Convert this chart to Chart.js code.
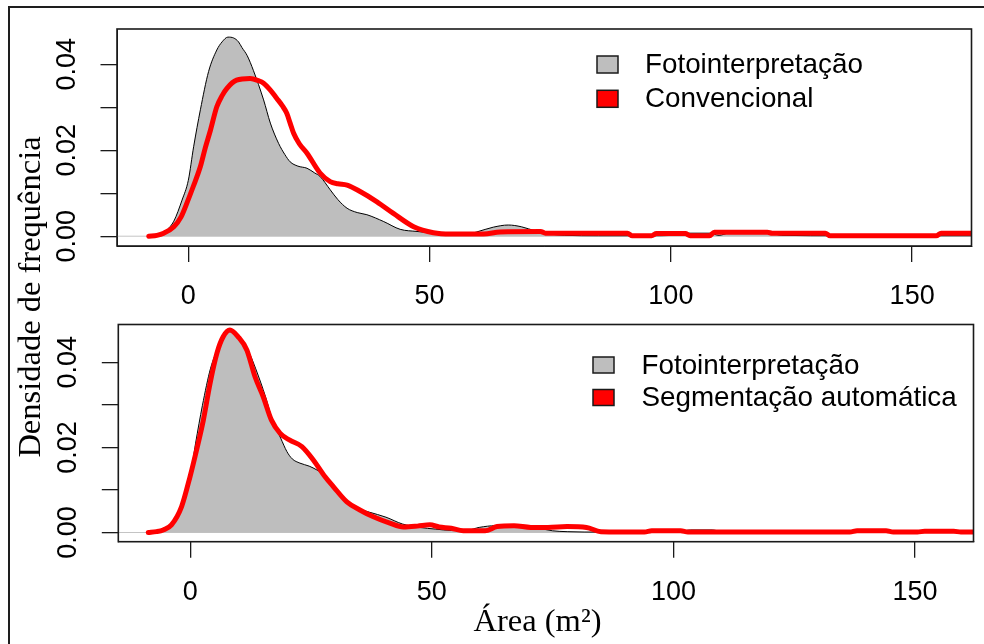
<!DOCTYPE html>
<html>
<head>
<meta charset="utf-8">
<script src="https://cdn.jsdelivr.net/npm/chart.js@4.4.1/dist/chart.umd.min.js"></script>
<style>
html,body{margin:0;padding:0;background:#fff;}
#wrap{position:relative;width:984px;height:644px;overflow:hidden;background:#fff;}
#frame{position:absolute;left:8px;top:6px;width:1000px;height:700px;border-top:2px solid #1e1e1e;border-left:2px solid #1e1e1e;}
canvas{position:absolute;left:0;top:0;}
</style>
</head>
<body>
<div id="wrap">
  <div id="frame"></div>
  <canvas id="topChart" width="984" height="644"></canvas>
  <canvas id="botChart" width="984" height="644"></canvas>
</div>
<script>
// ---------------- data ----------------
const fotoX    = [-8.5,-6,-4.4,-3,-1.3,0,1.1,2.5,4.2,5.9,7,8.2,9.4,10.4,11.1,12.2,13.5,15.6,17,18.7,20,21.1,22.7,24.6,26.2,27.3,29.4,31,32.9,35,37,40.5,43.9,47.4,50.8,54,57.6,59.8,63.2,66.3,69,72,75,78,85,95,101,103.6,108,110,112,120.5,123,135,150,165];
const fotoTopY = [0,0.0003,0.0015,0.0035,0.0084,0.0130,0.0208,0.0294,0.0383,0.0433,0.0452,0.0463,0.0461,0.0452,0.0439,0.0420,0.0385,0.0317,0.0263,0.0216,0.0190,0.0173,0.0163,0.0158,0.0147,0.0139,0.0108,0.0085,0.0065,0.0055,0.0050,0.0034,0.0016,0.0011,0.0007,0.0004,0.0004,0.0010,0.0021,0.0026,0.0022,0.0012,0.0005,0.0002,0.0001,0.0001,0.0002,0.0007,0.0007,0.0002,0.0007,0.0007,0.0002,0.0001,0.0001,0.0001];
const fotoBotY = [0,0.0003,0.0015,0.0035,0.0084,0.0132,0.0210,0.0298,0.0386,0.0437,0.0462,0.0472,0.0467,0.0455,0.0442,0.0422,0.0386,0.0318,0.0264,0.0222,0.0190,0.0173,0.0163,0.0156,0.0147,0.0139,0.0108,0.0085,0.0066,0.0055,0.0048,0.0036,0.0020,0.0012,0.0008,0.0005,0.0006,0.0012,0.0016,0.0016,0.0012,0.0010,0.0004,0.0002,0.0001,0.0001,0.0002,0.0006,0.0006,0.0002,0.0001,0.0001,0.0001,0.0001,0.0001,0.0001];

const convX = [-8.2,-6.5,-5.1,-3,-1.5,-0.3,1,2.5,3.5,4.6,5.9,7,8,10,12.8,14.5,15.6,17,18.3,19.5,20.4,21.1,21.8,23,24.6,27.3,29.4,31,32.9,35.6,39.1,42.5,46.7,50.8,54.3,61.2,64.6,73,74,91,92,96,97,103,104,108,109,120,121,132,133,155,156,165];
const convY = [0,0.0002,0.0007,0.0022,0.0045,0.0077,0.0115,0.0162,0.0205,0.0247,0.0301,0.0327,0.0344,0.0363,0.0367,0.0362,0.0356,0.0340,0.0321,0.0303,0.0286,0.0263,0.0240,0.0215,0.0193,0.0147,0.0127,0.0122,0.0119,0.0104,0.0080,0.0053,0.0022,0.0008,0.0005,0.0005,0.0010,0.0011,0.0007,0.0007,0.0001,0.0001,0.0006,0.0006,0.0001,0.0001,0.0009,0.0009,0.0007,0.0007,0.0001,0.0001,0.0007,0.0007];

const segX = [-8.7,-7,-5.6,-3.9,-1.8,-0.06,1.3,2.7,4.1,5.5,6.8,8.2,9.9,11.7,13.4,15.1,16.8,18.6,20.6,23.1,25.5,27.9,29.6,32.4,35.1,37.9,41.3,44.1,47,49.6,51.5,54,56.5,61,63.5,67,70.5,74,78,82,85,94,95.5,101.5,103,136.5,138,144,145.5,150.5,152,158,159.5,165];
const segY = [0,0.0002,0.0006,0.0018,0.0061,0.0131,0.0194,0.0264,0.0351,0.0421,0.0460,0.0476,0.0460,0.0429,0.0366,0.0319,0.0264,0.0233,0.0217,0.0202,0.0170,0.0131,0.0108,0.0072,0.0053,0.0037,0.0022,0.0013,0.0015,0.0018,0.0013,0.0010,0.0004,0.0004,0.0014,0.0016,0.0012,0.0012,0.0014,0.0012,0.0002,0.0001,0.0004,0.0004,0.0001,0.0001,0.0004,0.0004,0.0001,0.0001,0.0003,0.0003,0.0001,0.0001];

const zeroX = [-20, 170];
const zeroY = [0, 0];

const xTickValues = [0, 50, 100, 150];
const xTickLabels = ['0', '50', '100', '150'];
const yTickValues = [0, 0.02, 0.04];
const yTickLabels = ['0.00', '0.02', '0.04'];

const seriesTop = ['Fotointerpretação', 'Convencional'];
const seriesBot = ['Fotointerpretação', 'Segmentação automática'];
const xTitle = 'Área (m²)';
const yTitle = 'Densidade de frequência';

// ---------------- helpers ----------------
const pts = (xs, ys) => xs.map((x, i) => ({x: x, y: ys[i]}));
function labelFrom(values, labels, v) {
  for (let i = 0; i < values.length; i++) {
    if (Math.abs(values[i] - v) < 1e-9) return labels[i];
  }
  return '';
}
const GRAY = '#BEBEBE', RED = '#FF0000';
const SANS = 'Liberation Sans, Arial, sans-serif';
const SERIF = 'Liberation Serif, Times New Roman, serif';

const boxPlugin = {
  id: 'rBox',
  afterDatasetsDraw(chart) {
    const a = chart.chartArea, ctx = chart.ctx;
    ctx.save();
    ctx.strokeStyle = '#1a1a1a';
    ctx.lineWidth = 1.6;
    ctx.strokeRect(a.left, a.top, a.right - a.left, a.bottom - a.top);
    ctx.restore();
  }
};

const legendPlugin = {
  id: 'rLegend',
  afterDraw(chart, args, opts) {
    const ctx = chart.ctx;
    ctx.save();
    ctx.font = opts.fontSize + 'px ' + SANS;
    ctx.textBaseline = 'middle';
    ctx.textAlign = 'left';
    opts.labels.forEach((lab, i) => {
      const cy = opts.rows[i];
      ctx.fillStyle = opts.fills[i];
      ctx.fillRect(opts.boxX, cy - opts.boxH / 2, opts.boxW, opts.boxH);
      ctx.strokeStyle = '#1a1a1a';
      ctx.lineWidth = 1.5;
      ctx.strokeRect(opts.boxX, cy - opts.boxH / 2, opts.boxW, opts.boxH);
      ctx.fillStyle = '#000';
      ctx.fillText(lab, opts.textX, cy + 1);
    });
    ctx.restore();
  }
};

const titlePlugin = {
  id: 'rTitles',
  afterDraw(chart, args, opts) {
    if (!opts.show) return;
    const ctx = chart.ctx;
    ctx.save();
    ctx.fillStyle = '#000';
    ctx.font = opts.fontSize + 'px ' + SERIF;
    ctx.textAlign = 'center';
    ctx.textBaseline = 'alphabetic';
    ctx.fillText(xTitle, opts.xTitleX, opts.xTitleY);
    ctx.translate(opts.yTitleX, opts.yTitleY);
    ctx.rotate(-Math.PI / 2);
    ctx.fillText(yTitle, 0, 0);
    ctx.restore();
  }
};

function makeChart(id, cfg) {
  return new Chart(document.getElementById(id), {
    type: 'line',
    data: {
      datasets: [
        {label: cfg.names[1], data: cfg.red, borderColor: RED, borderWidth: 5, fill: false,
         pointRadius: 0, cubicInterpolationMode: 'monotone', order: 0, borderJoinStyle: 'round', borderCapStyle: 'round'},
        {label: cfg.names[0], data: cfg.gray, borderColor: '#000', borderWidth: 1, backgroundColor: GRAY,
         fill: 'origin', pointRadius: 0, cubicInterpolationMode: 'monotone', order: 1},
        {label: '', data: pts(zeroX, zeroY), borderColor: '#c4c4c4', borderWidth: 1, fill: false,
         pointRadius: 0, order: 2}
      ]
    },
    options: {
      responsive: false,
      animation: false,
      events: [],
      layout: {padding: cfg.padding},
      plugins: {
        legend: {display: false},
        tooltip: {enabled: false},
        rLegend: cfg.legend,
        rTitles: cfg.titles
      },
      scales: {
        x: {
          type: 'linear', min: cfg.xMin, max: cfg.xMax,
          afterFit: s => { s.height = 74; },
          border: {display: true, color: '#1a1a1a', width: 1},
          grid: {drawOnChartArea: false, drawTicks: true, tickLength: 16, color: '#1a1a1a', lineWidth: 1.3},
          ticks: {
            stepSize: 50, includeBounds: false, autoSkip: false, minRotation: 0, maxRotation: 0,
            padding: 18.5, color: '#000', font: {family: SANS, size: 27},
            callback: v => labelFrom(xTickValues, xTickLabels, v)
          }
        },
        y: {
          type: 'linear', min: cfg.yMin, max: cfg.yMax,
          afterFit: s => { s.width = cfg.yWidth; },
          border: {display: true, color: '#1a1a1a', width: 1},
          grid: {drawOnChartArea: false, drawTicks: true, tickLength: 16.5, color: '#1a1a1a', lineWidth: 1.3},
          ticks: {
            stepSize: 0.01, includeBounds: false, autoSkip: false, minRotation: 90, maxRotation: 90,
            crossAlign: 'center', padding: 7, color: '#000', font: {family: SANS, size: 27},
            callback: v => labelFrom(yTickValues, yTickLabels, v)
          }
        }
      }
    },
    plugins: [boxPlugin, legendPlugin, titlePlugin]
  });
}

makeChart('topChart', {
  names: seriesTop,
  gray: pts(fotoX, fotoTopY),
  red: pts(convX, convY),
  xMin: -14.78, xMax: 162.3,
  yMin: -0.00228, yMax: 0.04819,
  yWidth: 117,
  padding: {left: 0, top: 29, right: 12.5, bottom: 324},
  legend: {labels: seriesTop, fills: [GRAY, RED], boxX: 597, boxW: 21, boxH: 17, textX: 645, rows: [64.5, 98.8], fontSize: 27.8},
  titles: {show: false}
});

makeChart('botChart', {
  names: seriesBot,
  gray: pts(fotoX, fotoBotY),
  red: pts(segX, segY),
  xMin: -14.9, xMax: 162.1,
  yMin: -0.00216, yMax: 0.04888,
  yWidth: 118.3,
  padding: {left: 0, top: 324.5, right: 10.5, bottom: 28.3},
  legend: {labels: seriesBot, fills: [GRAY, RED], boxX: 593, boxW: 21, boxH: 16, textX: 641.5, rows: [365, 397.5], fontSize: 27.8},
  titles: {show: true, fontSize: 32.5, xTitleX: 537.5, xTitleY: 631, yTitleX: 40, yTitleY: 297}
});
</script>
</body>
</html>
